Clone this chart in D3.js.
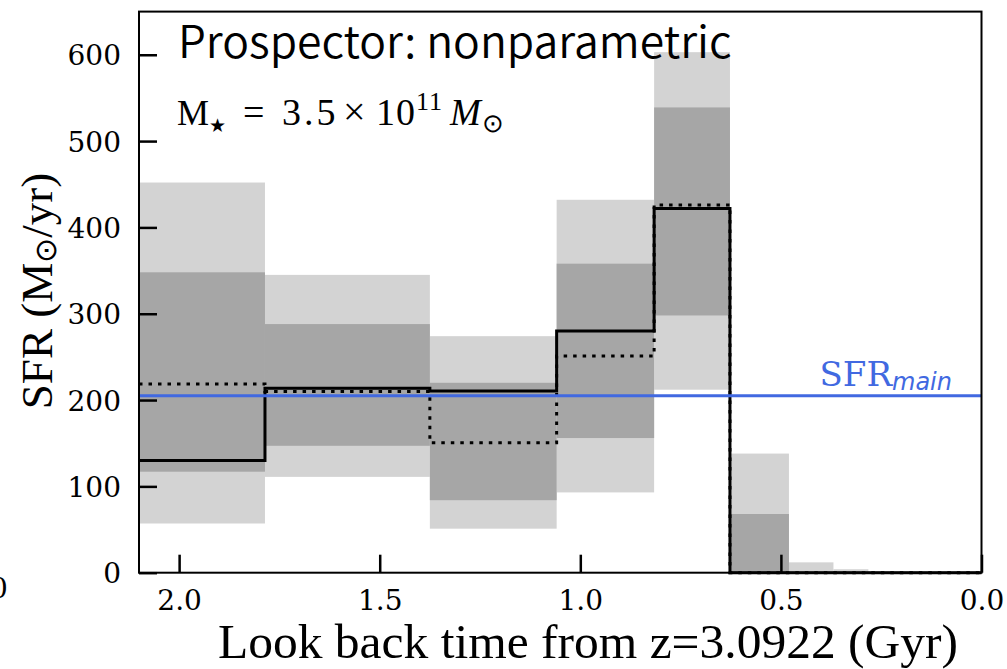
<!DOCTYPE html>
<html><head><meta charset="utf-8">
<script src="https://cdn.jsdelivr.net/npm/d3@7"></script>
<style>html,body{margin:0;padding:0;background:#fff;}svg{display:block;}</style>
</head><body>
<svg id="chart" width="1007" height="669"></svg>
<script>
// ---- data ----
const binEdges = [2.1, 1.786, 1.375, 1.059, 0.816, 0.627, 0.48, 0.369, 0.282, 0.0];
const lo95 = [57, 111, 51, 93, 212, 0, 0, 0, 0];
const hi95 = [452, 345, 274, 432, 603, 138, 12, 4, 0];
const lo68 = [117, 147, 84, 156, 298, 0, 0, 0, 0];
const hi68 = [348, 288, 220, 358, 539, 68, 1, 0, 0];
const sfrMedian = [130, 213.6, 210.5, 280, 422, 0, 0, 0, 0];
const sfrBest = [218.6, 210, 150.6, 251, 426, 0, 0, 0, 0];
const sfrMain = 205;
const xTicks = [2.0, 1.5, 1.0, 0.5, 0.0];
const yTicks = [0, 100, 200, 300, 400, 500, 600];
const xDomain = [2.1, 0.0];
const yDomain = [0, 650];

const svg = d3.select("#chart");
svg.append("rect").attr("width",1007).attr("height",669).attr("fill","#fff");

const L = 139, R = 981.5, T = 11.6, B = 572.7;
const x = d3.scaleLinear().domain(xDomain).range([L, R]);
const y = d3.scaleLinear().domain(yDomain).range([B, T]);

const bins = d3.range(binEdges.length - 1).map(i => ({
  x0: binEdges[i], x1: binEdges[i+1],
  lo95: lo95[i], hi95: hi95[i], lo68: lo68[i], hi68: hi68[i]
}));

const g = svg.append("g");
g.selectAll("rect.b95").data(bins).join("rect").attr("class","b95")
  .attr("x", d => x(d.x0)).attr("width", d => x(d.x1) - x(d.x0))
  .attr("y", d => y(d.hi95)).attr("height", d => y(d.lo95) - y(d.hi95))
  .attr("fill", "#d3d3d3");
g.selectAll("rect.b68").data(bins).join("rect").attr("class","b68")
  .attr("x", d => x(d.x0)).attr("width", d => x(d.x1) - x(d.x0))
  .attr("y", d => y(d.hi68)).attr("height", d => y(d.lo68) - y(d.hi68))
  .attr("fill", "#a6a6a6");

function stepPts(vals) {
  const pts = vals.map((v, i) => [binEdges[i], v]);
  pts.push([binEdges[binEdges.length-1], vals[vals.length-1]]);
  return pts;
}
const stepLine = d3.line().x(d => x(d[0])).y(d => y(d[1])).curve(d3.curveStepAfter);

g.append("path").attr("d", stepLine(stepPts(sfrBest)))
  .attr("fill","none").attr("stroke","#000").attr("stroke-width",3)
  .attr("stroke-dasharray","3.5,6");
g.append("path").attr("d", stepLine(stepPts(sfrMedian)))
  .attr("fill","none").attr("stroke","#000").attr("stroke-width",3);

g.append("line").attr("x1", x(xDomain[0])).attr("x2", x(xDomain[1]))
  .attr("y1", y(sfrMain)).attr("y2", y(sfrMain))
  .attr("stroke","#4169e1").attr("stroke-width",3);

const lab = svg.append("text").attr("x", 952).attr("y", y(sfrMain) - 9.5)
  .attr("text-anchor","end").attr("fill","#4169e1")
  .style("font-family","DejaVu Serif").style("font-size","34px");
lab.append("tspan").text("SFR");
lab.append("tspan").attr("dy", 3.7).style("font-family","DejaVu Sans")
  .style("font-style","oblique").style("font-size","24px").text("main");

// frame
svg.append("rect").attr("x", L).attr("y", T).attr("width", R - L).attr("height", B - T)
  .attr("fill","none").attr("stroke","#000").attr("stroke-width",2);

// axes
const ax = svg.append("g").attr("transform", `translate(0,${B})`)
  .call(d3.axisBottom(x).tickValues(xTicks).tickFormat(d3.format(".1f")).tickSize(-18).tickPadding(17));
const ay = svg.append("g").attr("transform", `translate(${L},0)`)
  .call(d3.axisLeft(y).tickValues(yTicks).tickFormat(d3.format("d")).tickSize(-18).tickPadding(18));
[ax, ay].forEach(a => {
  a.select(".domain").remove();
  a.selectAll(".tick line").attr("stroke","#000").attr("stroke-width",2.5);
  a.selectAll(".tick text").attr("fill","#000")
    .style("font-family","DejaVu Serif").style("font-size","28px");
});
ay.selectAll(".tick text").attr("dy","0.36em");

// axis labels
svg.append("text").attr("x", 218).attr("y", 658)
  .style("font-family","Liberation Serif").style("font-size","49.5px").attr("fill","#000")
  .text("Look back time from z=3.0922 (Gyr)");

const yl = svg.append("text").attr("transform","translate(52,291) rotate(-90)")
  .attr("text-anchor","middle").attr("fill","#000")
  .style("font-family","Liberation Serif").style("font-size","45px");
yl.append("tspan").text("SFR (M");
yl.append("tspan").attr("dy", 4).style("font-size","30px").text("\u2299");
yl.append("tspan").attr("dy", -4).text("/yr)");

// annotations
svg.append("text").attr("x", 178).attr("y", 58.3)
  .style("font-family","Noto Sans CJK JP").style("font-size","44.5px").style("font-weight","350")
  .attr("fill","#000").text("Prospector: nonparametric");

const mt = svg.append("g").style("font-family","Liberation Serif").attr("fill","#000");
const mBase = 125;
mt.append("text").attr("x", 177).attr("y", mBase).style("font-size","36px").text("M");
mt.append("text").attr("x", 209).attr("y", mBase + 7).style("font-size","19px").text("\u2605");
mt.append("text").attr("x", 243).attr("y", mBase).style("font-size","38px").text("=");
mt.append("text").attr("x", 282).attr("y", mBase).style("font-size","38px")
  .style("letter-spacing","3px").text("3.5");
mt.append("text").attr("x", 343).attr("y", mBase).style("font-size","40px").text("\u00d7");
mt.append("text").attr("x", 376).attr("y", mBase).style("font-size","38px")
  .style("letter-spacing","1px").text("10");
mt.append("text").attr("x", 416).attr("y", mBase - 15).style("font-size","26px")
  .style("letter-spacing","1px").text("11");
mt.append("text").attr("x", 450).attr("y", mBase).style("font-size","37px")
  .style("font-style","italic").text("M");
mt.append("text").attr("x", 482).attr("y", mBase + 7).style("font-size","26px").text("\u2299");

// stray fragment at the left edge
svg.append("text").attr("x", -10).attr("y", 598)
  .style("font-family","DejaVu Serif").style("font-size","28px").attr("fill","#000").text("0");
</script>
</body></html>
